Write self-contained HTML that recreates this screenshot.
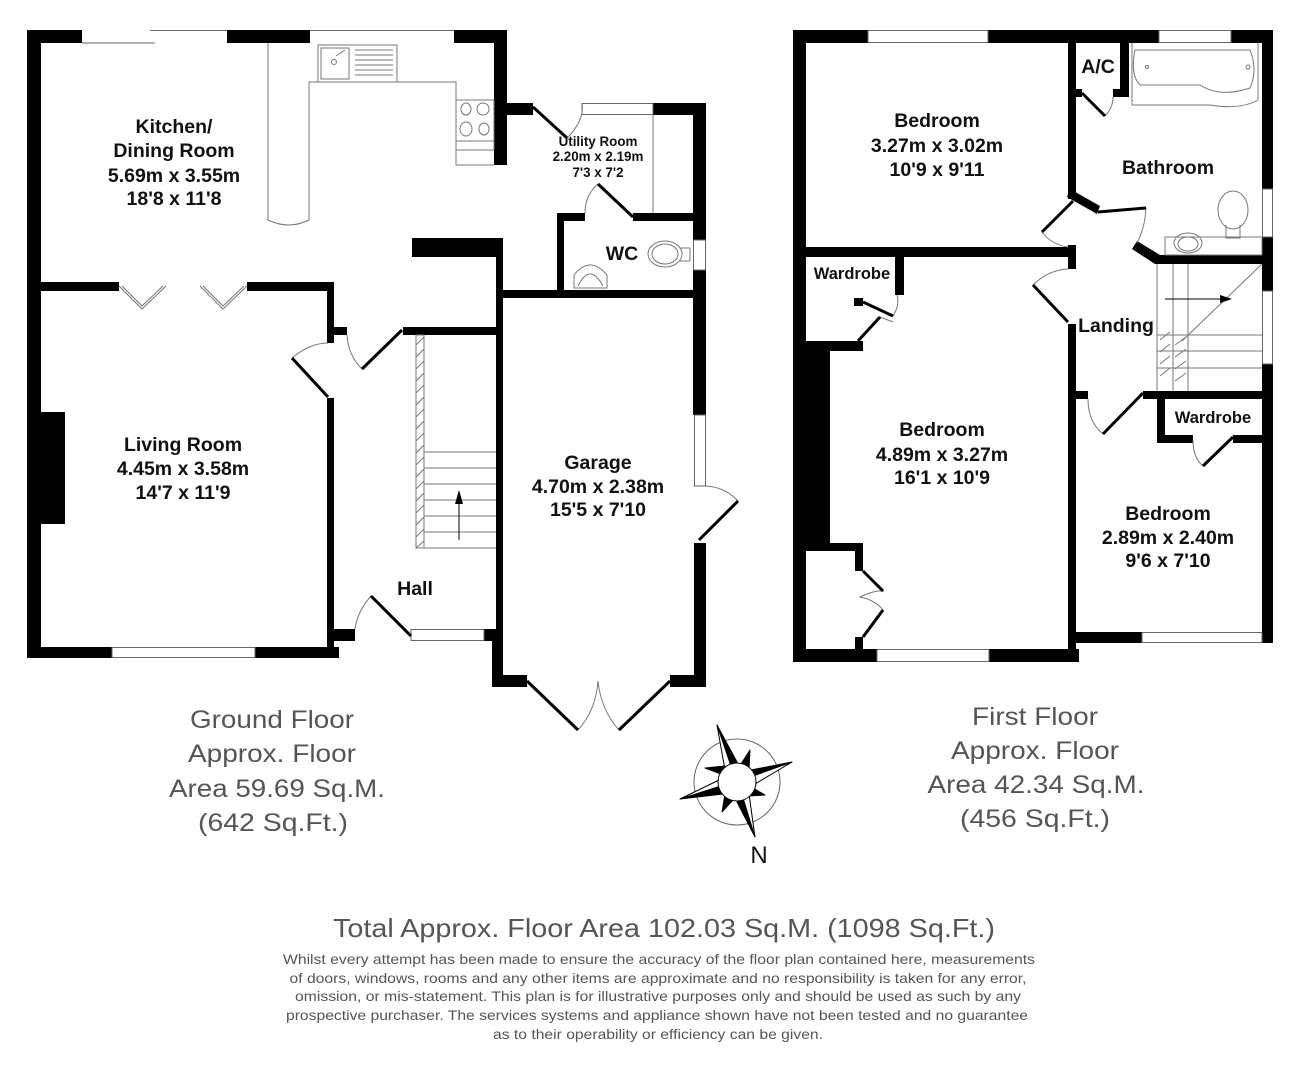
<!DOCTYPE html>
<html><head><meta charset="utf-8"><style>
html,body{margin:0;padding:0;background:#fff;}
svg{display:block;}
.rl{font-family:"Liberation Sans",Arial,sans-serif;font-weight:bold;fill:#111;text-anchor:middle;}
.ar{font-family:"Liberation Sans",Arial,sans-serif;fill:#555;text-anchor:middle;}
</style></head><body>
<svg width="1303" height="1080" viewBox="0 0 1303 1080" xmlns="http://www.w3.org/2000/svg">
<rect width="1303" height="1080" fill="#fff"/>
<g fill="#000">
<rect x="27" y="30" width="55" height="13"/>
<rect x="227" y="30" width="83" height="13"/>
<rect x="454" y="30" width="53" height="13"/>
<rect x="494" y="30" width="13" height="135"/>
<rect x="27" y="30" width="14" height="628"/>
<rect x="41" y="412" width="24" height="112"/>
<rect x="27" y="647" width="85" height="11"/>
<rect x="255" y="647" width="84" height="11"/>
<rect x="327" y="398" width="7" height="260"/>
<rect x="327" y="629" width="28" height="12"/>
<rect x="27" y="282" width="92" height="9"/>
<rect x="247" y="282" width="87" height="9"/>
<rect x="327" y="282" width="7" height="61"/>
<rect x="334" y="327" width="13" height="8"/>
<rect x="403" y="327" width="100" height="8"/>
<rect x="412" y="238" width="91" height="19"/>
<rect x="496" y="238" width="7" height="449"/>
<rect x="507" y="103" width="26" height="12"/>
<rect x="653" y="103" width="53" height="12"/>
<rect x="693" y="103" width="13" height="137"/>
<rect x="693" y="270" width="13" height="145"/>
<rect x="557" y="213" width="28" height="8"/>
<rect x="633" y="213" width="60" height="8"/>
<rect x="557" y="213" width="7" height="80"/>
<rect x="496" y="290" width="210" height="8"/>
<rect x="484" y="629" width="19" height="12"/>
<rect x="492" y="629" width="11" height="58"/>
<rect x="492" y="675" width="35" height="12"/>
<rect x="670" y="675" width="36" height="12"/>
<rect x="694" y="543" width="12" height="144"/>
</g>
<g fill="#fff" stroke="#666" stroke-width="1">
<line x1="82" y1="43" x2="155" y2="43"/>
<line x1="150" y1="30.5" x2="227" y2="30.5"/>
<line x1="310" y1="30.5" x2="454" y2="30.5"/>
<rect x="112" y="647.5" width="143" height="10"/>
<rect x="582" y="103.5" width="71" height="11"/>
<rect x="693.5" y="240" width="12" height="30"/>
<rect x="694.5" y="415" width="11" height="71"/>
<rect x="411" y="629.5" width="73" height="11"/>
</g>
<g fill="none" stroke="#777" stroke-width="1">
<path d="M268 43 V220 Q289 230 309 220 V82 H456 V165 H494"/>
<rect x="318" y="45" width="79" height="37"/>
<rect x="321" y="48" width="28" height="31"/>
<circle cx="334" cy="62" r="2.5"/>
<path d="M336 56 L345 50"/>
<path d="M355 50 H393 M355 55 H393 M355 60 H393 M355 65 H393 M355 70 H393 M355 75 H393"/>
<rect x="456" y="100" width="38" height="50"/>
<ellipse cx="466" cy="109" rx="5" ry="6"/><ellipse cx="483" cy="109" rx="6" ry="6"/>
<ellipse cx="466" cy="129" rx="6" ry="7"/><ellipse cx="484" cy="129" rx="5" ry="6"/>
<line x1="456" y1="141" x2="494" y2="141"/>
<line x1="653" y1="115" x2="653" y2="213"/>
<ellipse cx="665" cy="254" rx="17" ry="13"/>
<ellipse cx="665" cy="254" rx="13" ry="10"/>
<path d="M680 248 H690 V261 H680"/>
<path d="M574 288 V275 Q590 255 607 275 V288 Z"/>
<path d="M578 286 Q590 262 603 286"/>
<path d="M119 286 L142 309 L166 286 M122 286 L142 306 L163 286"/>
<path d="M200 286 L223 309 L247 286 M203 286 L223 306 L244 286"/>
<path d="M567 138 Q585 120 582 103"/>
<path d="M598 184 Q585 195 585 213"/>
<path d="M292 358 Q310 343 328 343"/>
<path d="M362 369 Q348 355 347 335"/>
<path d="M371 596 Q357 612 355 629"/>
<path d="M738 501 Q725 487 706 486"/>
<path d="M578 730 Q596 710 598 681"/>
<path d="M619 730 Q601 710 598 681"/>
<rect x="416" y="335" width="8" height="213"/>
<path d="M424 452 H496 M424 468 H496 M424 484 H496 M424 500 H496 M424 516 H496 M424 532 H496 M416 548 H496"/>
<path d="M416 345 L424 337 M416 357 L424 349 M416 369 L424 361 M416 381 L424 373 M416 393 L424 385 M416 405 L424 397 M416 417 L424 409 M416 429 L424 421 M416 441 L424 433 M416 453 L424 445 M416 465 L424 457 M416 477 L424 469 M416 489 L424 481 M416 501 L424 493 M416 513 L424 505 M416 525 L424 517 M416 537 L424 529 M416 548 L424 541"/>
<line x1="459" y1="540" x2="459" y2="500" stroke="#000"/>
</g>
<path d="M459 490 L455 504 L463 504 Z" fill="#000"/>
<g stroke="#000" stroke-width="3" fill="none">
<line x1="533" y1="107" x2="567" y2="138"/>
<line x1="633" y1="217" x2="598" y2="184"/>
<line x1="328" y1="397" x2="292" y2="358"/>
<line x1="402" y1="330" x2="362" y2="369"/>
<line x1="371" y1="596" x2="411" y2="636"/>
<line x1="738" y1="501" x2="699" y2="540"/>
<line x1="527" y1="681" x2="578" y2="730"/>
<line x1="670" y1="681" x2="619" y2="730"/>
</g>
<text class="rl" font-size="19.5" x="174" y="133">Kitchen/</text>
<text class="rl" font-size="19.5" x="174" y="157">Dining Room</text>
<text class="rl" font-size="19.5" x="174" y="182">5.69m x 3.55m</text>
<text class="rl" font-size="19.5" x="174" y="205">18'8 x 11'8</text>
<text class="rl" font-size="13.4" x="598" y="146">Utility Room</text>
<text class="rl" font-size="13.4" x="598" y="161">2.20m x 2.19m</text>
<text class="rl" font-size="13.4" x="598" y="177">7'3 x 7'2</text>
<text class="rl" font-size="19.5" x="622" y="260">WC</text>
<text class="rl" font-size="19.5" x="183" y="451">Living Room</text>
<text class="rl" font-size="19.5" x="183" y="475">4.45m x 3.58m</text>
<text class="rl" font-size="19.5" x="183" y="499">14'7 x 11'9</text>
<text class="rl" font-size="19.5" x="598" y="469">Garage</text>
<text class="rl" font-size="19.5" x="598" y="493">4.70m x 2.38m</text>
<text class="rl" font-size="19.5" x="598" y="516">15'5 x 7'10</text>
<text class="rl" font-size="19.5" x="415" y="595">Hall</text>

<g fill="#000">
<rect x="793" y="30" width="75" height="13"/>
<rect x="988" y="30" width="171" height="13"/>
<rect x="1231" y="30" width="42" height="13"/>
<rect x="793" y="30" width="13" height="632"/>
<rect x="1262" y="30" width="11" height="159"/>
<rect x="1262" y="237" width="11" height="54"/>
<rect x="1262" y="364" width="11" height="279"/>
<rect x="793" y="649" width="84" height="13"/>
<rect x="989" y="649" width="90" height="13"/>
<rect x="1068" y="632" width="74" height="11"/>
<rect x="1068" y="30" width="8" height="169"/>
<rect x="1068" y="245" width="8" height="24"/>
<rect x="1068" y="324" width="8" height="338"/>
<rect x="806" y="247" width="270" height="10"/>
<rect x="1120" y="43" width="9" height="54"/>
<rect x="1113" y="89" width="16" height="8"/>
<rect x="1076" y="89" width="6" height="8"/>
<polygon points="1070,189 1100,206 1097,214 1067,197"/>
<polygon points="1137,241 1160,255 1262,255 1262,264 1155,264 1132,249"/>
<rect x="1076" y="391" width="12" height="8"/>
<rect x="1143" y="391" width="119" height="8"/>
<rect x="1157" y="399" width="8" height="44"/>
<rect x="1157" y="435" width="36" height="8"/>
<rect x="1233" y="435" width="29" height="8"/>
<rect x="895" y="257" width="9" height="38"/>
<rect x="854" y="298" width="9" height="8"/>
<rect x="806" y="341" width="57" height="10"/>
<rect x="806" y="351" width="24" height="192"/>
<rect x="806" y="543" width="57" height="8"/>
<rect x="855" y="543" width="8" height="28"/>
<rect x="855" y="637" width="8" height="12"/>
</g>
<g fill="#fff" stroke="#666" stroke-width="1">
<rect x="868" y="30.5" width="120" height="12"/>
<rect x="1159" y="30.5" width="72" height="12"/>
<rect x="877" y="649.5" width="112" height="12"/>
<rect x="1142" y="632.5" width="120" height="10"/>
<rect x="1262.5" y="189" width="10" height="48"/>
<rect x="1262.5" y="291" width="10" height="73"/>
</g>
<g fill="none" stroke="#777" stroke-width="1">
<path d="M1132 43 V105 H1210 Q1240 110 1258 100 V43"/>
<path d="M1135 50 Q1130 75 1140 85 H1200 Q1220 98 1250 88 Q1258 70 1250 50 Z"/>
<circle cx="1147" cy="67" r="1.5"/><circle cx="1248" cy="67" r="2"/>
<ellipse cx="1233" cy="210" rx="15" ry="19"/>
<path d="M1226 225 V238 H1240 V225"/>
<rect x="1165" y="237" width="97" height="18"/>
<ellipse cx="1188" cy="243" rx="14" ry="10"/>
<ellipse cx="1188" cy="244" rx="10" ry="7"/>
<path d="M1157 264 V391 M1173 264 V391 M1188 264 V391 M1157 335 H1262 M1157 351 H1262 M1157 368 H1262 M1262 264 L1182 341"/>
<path d="M1160 340 L1170 332 M1160 352 L1170 344 M1160 364 L1170 356 M1160 376 L1170 368 M1175 345 L1186 337 M1175 357 L1186 349 M1175 369 L1186 361 M1175 381 L1186 373"/>
<line x1="1165" y1="299" x2="1220" y2="299" stroke="#000"/>
<path d="M1105 116 Q1113 108 1113 97"/>
<path d="M1146 208 Q1145 228 1137 243"/>
<path d="M1042 232 Q1052 245 1068 247"/>
<path d="M1033 285 Q1048 270 1068 269"/>
<path d="M1103 434 Q1088 422 1088 399"/>
<path d="M1203 466 Q1193 458 1193 440"/>
<path d="M893 316 Q900 305 897 295"/>
<path d="M880 317 L893 322"/>
<path d="M863 571 L883 591 Q875 590 860 597 Q875 600 883 610 L863 637"/>
</g>
<path d="M1220 295 L1232 299 L1220 303 Z" fill="#000"/>
<g stroke="#000" stroke-width="3" fill="none">
<line x1="1082" y1="93" x2="1105" y2="116"/>
<line x1="1098" y1="212" x2="1146" y2="208"/>
<line x1="1073" y1="201" x2="1042" y2="232"/>
<line x1="1068" y1="322" x2="1033" y2="285"/>
<line x1="1143" y1="393" x2="1103" y2="434"/>
<line x1="1233" y1="437" x2="1203" y2="466"/>
<line x1="863" y1="302" x2="893" y2="316"/>
<line x1="858" y1="341" x2="880" y2="317"/>
<line x1="863" y1="571" x2="883" y2="591"/>
<line x1="883" y1="610" x2="863" y2="637"/>
</g>
<text class="rl" font-size="19.5" x="937" y="127">Bedroom</text>
<text class="rl" font-size="19.5" x="937" y="152">3.27m x 3.02m</text>
<text class="rl" font-size="19.5" x="937" y="176">10'9 x 9'11</text>
<text class="rl" font-size="19.5" x="1168" y="174">Bathroom</text>
<text class="rl" font-size="19.5" x="1098" y="73">A/C</text>
<text class="rl" font-size="16.5" x="852" y="279">Wardrobe</text>
<text class="rl" font-size="19.5" x="1116" y="332">Landing</text>
<text class="rl" font-size="19.5" x="942" y="436">Bedroom</text>
<text class="rl" font-size="19.5" x="942" y="461">4.89m x 3.27m</text>
<text class="rl" font-size="19.5" x="942" y="484">16'1 x 10'9</text>
<text class="rl" font-size="16.5" x="1213" y="423">Wardrobe</text>
<text class="rl" font-size="19.5" x="1168" y="520">Bedroom</text>
<text class="rl" font-size="19.5" x="1168" y="544">2.89m x 2.40m</text>
<text class="rl" font-size="19.5" x="1168" y="567">9'6 x 7'10</text>

<g transform="translate(737,782)">
<circle r="43" fill="none" stroke="#666" stroke-width="1"/>
<g stroke="#000" stroke-width="1" stroke-linejoin="round">
<polygon points="-20,-57 -6,-16 0,-20" fill="#000"/>
<polygon points="-20,-57 -6,-16 -12,-12" fill="#fff"/>
<polygon points="18,55 6,16 0,20" fill="#000"/>
<polygon points="18,55 6,16 12,12" fill="#fff"/>
<polygon points="-57,17 -16,4 -14,12" fill="#000"/>
<polygon points="-57,17 -16,4 -18,-2" fill="#fff"/>
<polygon points="55,-20 16,-6 14,-12" fill="#000"/>
<polygon points="55,-20 16,-6 18,2" fill="#fff"/>
<polygon points="13,-32 4,-18 12,-12" fill="#000"/>
<polygon points="-32,-14 -16,-8 -12,-16" fill="#000"/>
<polygon points="-15,30 -4,18 -12,12" fill="#000"/>
<polygon points="28,13 16,6 12,14" fill="#000"/>
</g>
<circle r="19" fill="#fff" stroke="#000" stroke-width="1"/>
</g>
<text x="759" y="863" font-family="Liberation Sans,Arial,sans-serif" font-size="24" fill="#111" text-anchor="middle">N</text>

<g class="ar" font-size="25">
<text x="272" y="728" textLength="164" lengthAdjust="spacingAndGlyphs">Ground Floor</text>
<text x="272" y="762" textLength="168" lengthAdjust="spacingAndGlyphs">Approx. Floor</text>
<text x="277" y="797" textLength="216" lengthAdjust="spacingAndGlyphs">Area 59.69 Sq.M.</text>
<text x="273" y="831" textLength="150" lengthAdjust="spacingAndGlyphs">(642 Sq.Ft.)</text>
<text x="1035" y="725" textLength="126" lengthAdjust="spacingAndGlyphs">First Floor</text>
<text x="1035" y="759" textLength="168" lengthAdjust="spacingAndGlyphs">Approx. Floor</text>
<text x="1036" y="793" textLength="217" lengthAdjust="spacingAndGlyphs">Area 42.34 Sq.M.</text>
<text x="1035" y="827" textLength="150" lengthAdjust="spacingAndGlyphs">(456 Sq.Ft.)</text>
<text x="664" y="937" textLength="662" lengthAdjust="spacingAndGlyphs" font-size="26">Total Approx. Floor Area 102.03 Sq.M. (1098 Sq.Ft.)</text>
</g>
<g class="ar" font-size="14" fill="#444">
<text x="659" y="964" textLength="752" lengthAdjust="spacingAndGlyphs">Whilst every attempt has been made to ensure the accuracy of the floor plan contained here, measurements</text>
<text x="658" y="983" textLength="737" lengthAdjust="spacingAndGlyphs">of doors, windows, rooms and any other items are approximate and no responsibility is taken for any error,</text>
<text x="658" y="1001" textLength="726" lengthAdjust="spacingAndGlyphs">omission, or mis-statement. This plan is for illustrative purposes only and should be used as such by any</text>
<text x="657" y="1020" textLength="742" lengthAdjust="spacingAndGlyphs">prospective purchaser. The services systems and appliance shown have not been tested and no guarantee</text>
<text x="658" y="1039" textLength="330" lengthAdjust="spacingAndGlyphs">as to their operability or efficiency can be given.</text>
</g>
</svg>
</body></html>
